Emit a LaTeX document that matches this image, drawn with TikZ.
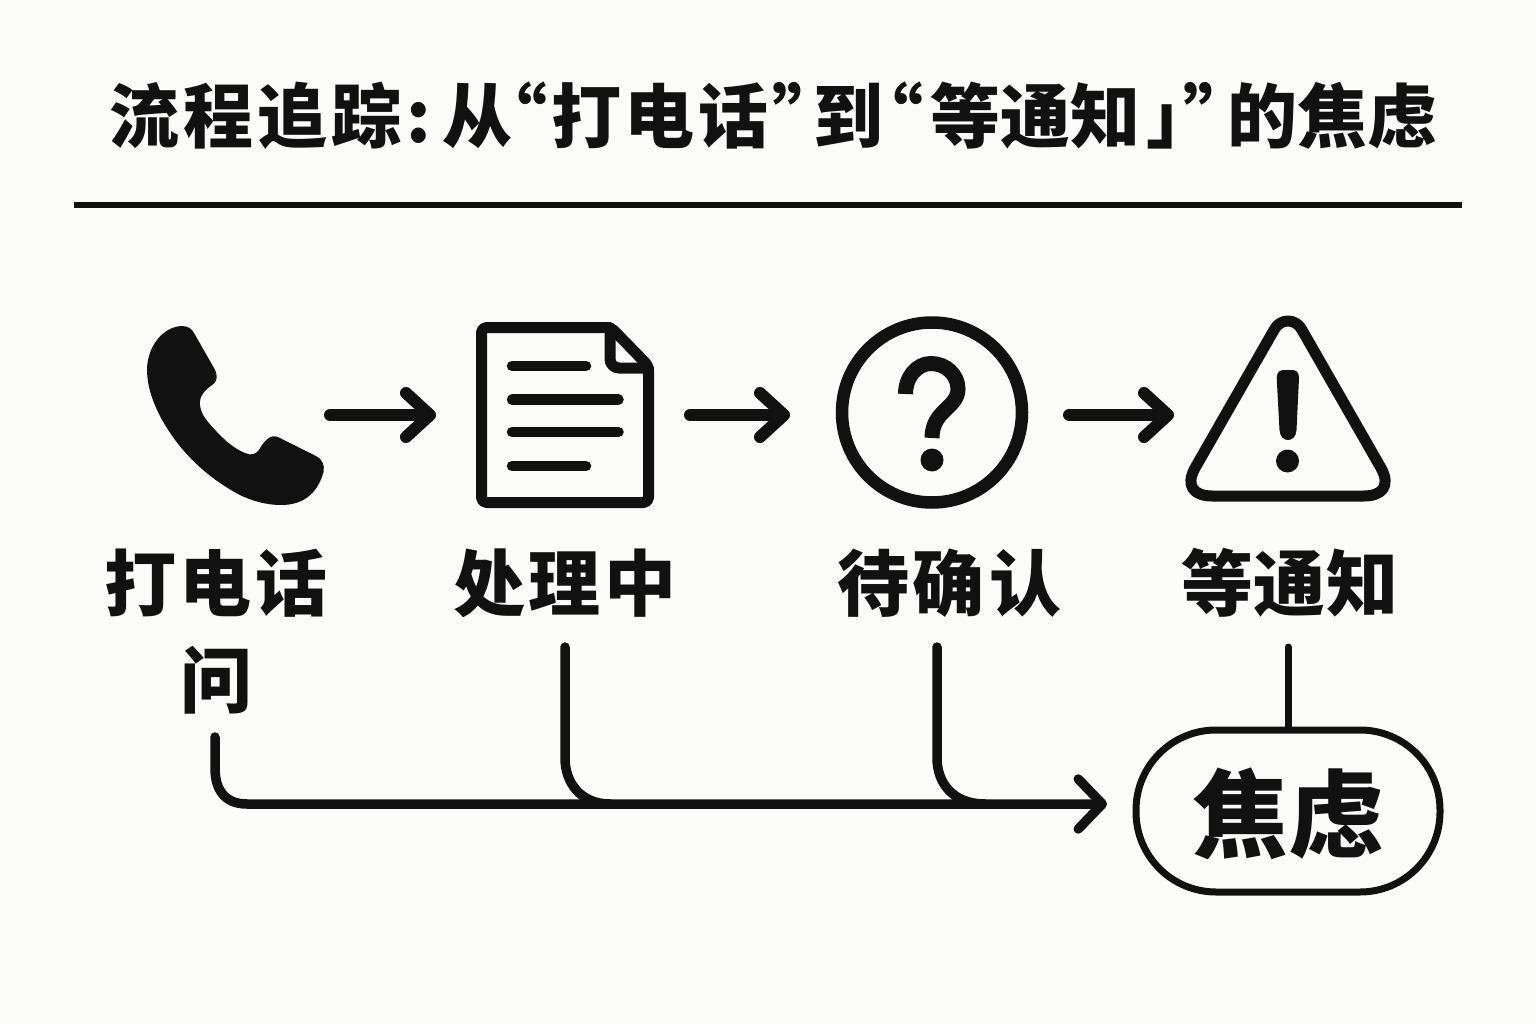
\documentclass[tikz,border=0pt]{standalone}
\usepackage{fontspec}
\usetikzlibrary{arrows.meta}
\newfontfamily\cjk[BoldFont=* Black]{Noto Sans CJK SC}
\definecolor{ink}{HTML}{111111}
\definecolor{paper}{HTML}{FBFBF9}
\newcommand\tp[2]{\hbox to 0pt{\kern#1pt #2\hss}}
\tikzset{
  x=1pt,y=-1pt,
  lbl/.style={font=\cjk\bfseries\fontsize{72}{72}\selectfont,text=ink,inner sep=0pt},
  ttl/.style={font=\cjk\bfseries\fontsize{70}{70}\selectfont,text=ink,inner sep=0pt,anchor=west},
  stroke/.style={draw=ink,line width=11pt,line cap=round,line join=round},
  flowarrow/.style={draw=ink,line width=12pt,line cap=round,line join=round,-{Straight Barb[round,length=24pt,width=44pt]}},
  busline/.style={draw=ink,line width=9.5pt,line cap=round,line join=round},
}
\begin{document}
\begin{tikzpicture}
\fill[paper] (0,0) rectangle (1536,1024);
\useasboundingbox (0,0) rectangle (1536,1024);
% title
\node[ttl] (title) at (109,116) {\hbox to 1330pt{\tp{0}{流}\tp{74}{程}\tp{148}{追}\tp{222}{踪}\tp{297}{:}\tp{333}{从}\tp{368}{“}\tp{442}{打}\tp{515}{电}\tp{589}{话}\tp{663}{”}\tp{704}{到}\tp{744}{“}\tp{821}{等}\tp{891}{通}\tp{961}{知}\tp{1037}{」}\tp{1074}{”}\tp{1118}{的}\tp{1188}{焦}\tp{1258}{虑}\hss}};
\draw[draw=ink,line width=6pt] (74,205) -- (1462,205);
% phone
\fill[ink] (181.7,326) .. controls (188,326) and (192,329) .. (194,333)
 -- (214,368) .. controls (218,375) and (218,381) .. (212,385)
 .. controls (205,390) and (199,396) .. (200,405)
 .. controls (201,413) and (204,417) .. (208,422)
 .. controls (220,436) and (232,448) .. (245,453)
 .. controls (251,456) and (256,454) .. (259,450)
 .. controls (264,441) and (270,434) .. (278,437)
 -- (316,456) .. controls (322,459) and (325,465) .. (323.5,472)
 .. controls (319,488) and (310,500) .. (292,504)
 .. controls (276,507) and (255,503) .. (238,494)
 .. controls (205,476) and (178,450) .. (160,416)
 .. controls (152,400) and (147,386) .. (147,368)
 .. controls (148,347) and (162,327) .. (181.7,326) -- cycle;
% document
\draw[stroke,rounded corners=5pt] (481.5,327.5) -- (611,327.5) -- (648.5,366) -- (648.5,502.5) -- (481.5,502.5) -- cycle;
\draw[stroke,rounded corners=9pt] (610,327.5) -- (610,368) -- (648.5,368);
\foreach \yy/\xe in {366/590,399.7/622.5,432/622.5,466/590}
  \draw[ink,line width=10.5pt,line cap=round] (512,\yy) -- (\xe-4,\yy);
% question
\draw[ink,line width=12.5pt] (932,412.5) circle (90);
\draw[ink,line width=15pt] (905.5,394) .. controls (905.5,377) and (917,363.5) .. (931,363.5)
  .. controls (946,363.5) and (958,375) .. (958,389) .. controls (958,408) and (932,410) .. (932,438);
\fill[ink] (932,460) circle (11.5);
% warning
\draw[stroke] (1274,330) .. controls (1280,318) and (1296,318) .. (1302,330)
  -- (1381,468) .. controls (1391,486) and (1382,496) .. (1364,496)
  -- (1212,496) .. controls (1194,496) and (1185,486) .. (1195,468) -- cycle;
\fill[ink] (1276.7,378) .. controls (1276.7,372) and (1280,370) .. (1284,370) -- (1292,370)
  .. controls (1296,370) and (1299,372) .. (1299,378) -- (1296.5,430)
  .. controls (1296,437) and (1292,440) .. (1288,440) .. controls (1284,440) and (1280,437) .. (1279.5,430) -- cycle;
\fill[ink] (1287.5,461) circle (11.5);
% arrows between icons
\coordinate (phoneOut) at (330,415);
\coordinate (docIn) at (436,415);
\coordinate (docOut) at (690,415);
\coordinate (qIn) at (790,415);
\coordinate (qOut) at (1069,415);
\coordinate (warnIn) at (1174,415);
\draw[flowarrow] (phoneOut) -- (docIn);
\draw[flowarrow] (docOut) -- (qIn);
\draw[flowarrow] (qOut) -- (warnIn);
% labels
\node[lbl] (l1) at (216,583) {打\kern4pt电\kern4pt话};
\node[lbl] (l1b) at (216,680) {问};
\node[lbl] (l2) at (565,583) {处\kern4pt理\kern4pt中};
\node[lbl] (l3) at (949,583) {待\kern4pt确\kern4pt认};
\node[lbl] (l4) at (1290,583) {等\kern1pt通\kern1pt知};
% anxiety pill
\node[draw=ink,line width=7pt,rounded corners=80pt,minimum width=304pt,minimum height=162pt,inner sep=0pt,
  font=\cjk\bfseries\fontsize{96}{96}\selectfont,text=ink] (pill) at (1288,811) {\raisebox{0pt}[\dimexpr\height+6pt\relax][\depth]{焦虑}};
% routing
\coordinate (a) at (215,737);
\coordinate (b) at (565,647);
\coordinate (c) at (937,647);
\coordinate (d) at (1288,647);
\coordinate (busEnd) at (1107,804);
\draw[busline,-{Straight Barb[round,length=24pt,width=50pt]}] (a) -- (215,768) .. controls (215,790) and (225,804) .. (247,804) -- (busEnd);
\draw[busline] (b) -- (565,758) .. controls (565,782) and (580,804) .. (610,804);
\draw[busline] (c) -- (937,758) .. controls (937,782) and (952,804) .. (985,804);
\draw[draw=ink,line width=7pt,line cap=round] (d) -- (pill.north -| d);
\end{tikzpicture}
\end{document}
